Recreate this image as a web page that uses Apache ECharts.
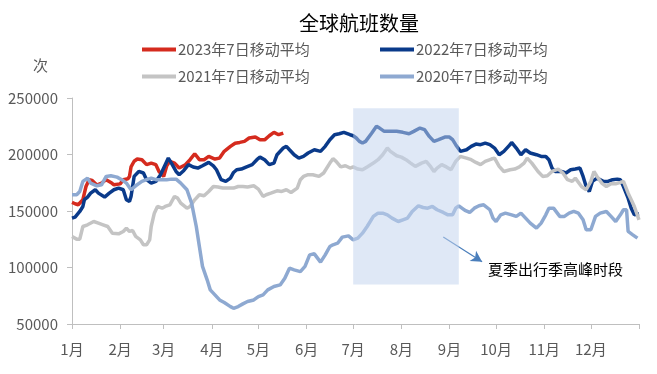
<!DOCTYPE html>
<html>
<head>
<meta charset="utf-8">
<script src="https://cdn.jsdelivr.net/npm/echarts@6/dist/echarts.min.js"></script>
<style>
html,body{margin:0;padding:0;background:#fff;}
#chart{width:657px;height:374px;}
</style>
</head>
<body>
<div id="chart"></div>
<script>
// x = day of year (0 = 1月1日), y = flights (7-day moving average)
const monthStarts = [0, 31, 59, 90, 120, 151, 181, 212, 243, 273, 304, 334];
const monthLabels = ['1月','2月','3月','4月','5月','6月','7月','8月','9月','10月','11月','12月'];
const yearEnd = 365;
const seriesNames = ['2023年7日移动平均','2022年7日移动平均','2021年7日移动平均','2020年7日移动平均'];

const s2023 = [[0,157600],[2,156400],[4,155500],[7,160000],[9,171700],[11,177700],[13,177000],[16,173000],[19,174700],[22,177700],[25,175300],[27,173200],[31,174000],[33,177700],[36,178500],[37,180600],[38,189000],[40,194000],[42,196000],[45,195400],[48,191000],[51,192400],[54,191000],[56,185000],[59,180600],[61,190000],[63,194000],[66,192400],[69,188000],[73,191000],[76,195400],[79,200700],[82,195400],[85,195400],[88,198300],[92,196000],[95,196800],[98,202800],[102,207200],[105,210000],[108,210700],[111,211600],[114,214600],[118,215500],[121,213000],[124,213000],[127,216600],[130,219600],[133,217500],[136,219000]];

const s2022 = [[0,143700],[2,144600],[5,149600],[7,154000],[8,160000],[10,162300],[12,165800],[15,168800],[17,165800],[21,162300],[24,165800],[27,168800],[30,170300],[33,168800],[35,160000],[37,158500],[38,162900],[40,180600],[43,185000],[46,183600],[48,177700],[51,174700],[54,176200],[57,182100],[60,191000],[62,196800],[64,192400],[67,185000],[69,182100],[72,185900],[75,191000],[78,188900],[81,188000],[84,190000],[88,193000],[91,190000],[93,186500],[96,177700],[99,176200],[102,179100],[104,184100],[106,186500],[109,187100],[112,188900],[116,191000],[119,195400],[121,197700],[124,195400],[127,191000],[130,192400],[132,199800],[136,205700],[138,207200],[140,204200],[143,199800],[146,196800],[149,198300],[152,201300],[156,204200],[160,202800],[163,207200],[166,213100],[169,217500],[172,218400],[175,219600],[179,217500],[181,216600],[183,214600],[185,211600],[187,210100],[189,211600],[193,219000],[196,224900],[198,223400],[201,220500],[204,220500],[209,220500],[213,219600],[217,218400],[220,220500],[224,223400],[227,222000],[230,216000],[233,211600],[236,213100],[240,215400],[243,215400],[245,213100],[247,208700],[250,202800],[254,204200],[257,207200],[260,209200],[263,208700],[266,210100],[269,208700],[272,205700],[275,199800],[278,202800],[282,208700],[283,210700],[286,205700],[289,199800],[292,204200],[295,201300],[299,199800],[302,198300],[305,198300],[307,195400],[309,188000],[311,185000],[315,185000],[318,183600],[321,186500],[324,187100],[327,188000],[329,180600],[331,171700],[333,167300],[335,176200],[338,179100],[342,176200],[345,176200],[348,177700],[351,178200],[353,177700],[355,171700],[358,161400],[360,152500],[362,146600],[365,147500]];

const s2021 = [[0,127500],[3,125100],[5,125100],[7,136300],[10,137800],[14,140700],[17,139300],[20,137800],[23,136300],[26,130400],[30,129800],[33,131900],[35,134800],[37,131900],[39,132800],[41,127500],[44,124500],[46,120100],[48,120100],[50,124500],[51,136300],[53,148100],[55,154000],[58,152500],[60,154000],[63,155500],[66,162900],[68,161400],[70,157000],[74,152500],[76,154000],[79,159900],[82,164400],[85,163500],[88,167300],[91,171700],[94,171200],[97,170300],[101,170300],[104,170300],[107,171700],[110,171700],[113,171200],[117,172300],[120,169400],[123,162900],[125,164400],[128,165800],[132,167900],[135,167300],[138,168800],[141,166400],[145,170300],[147,177700],[149,180600],[152,182100],[155,182100],[159,180600],[162,183600],[166,192400],[168,196300],[170,193900],[173,189000],[176,190100],[179,188000],[181,189000],[184,187100],[187,186500],[190,189000],[194,192400],[197,195400],[200,199800],[203,205700],[205,202800],[209,198900],[212,197700],[215,195400],[218,192400],[221,189500],[225,192400],[228,193900],[231,189000],[233,185000],[235,188000],[238,191000],[241,189000],[244,186500],[247,193900],[250,198300],[254,196800],[257,195400],[260,193000],[263,191000],[266,193900],[270,196000],[272,196800],[275,189500],[278,185000],[282,186500],[285,187100],[288,189000],[291,192400],[293,196800],[296,192400],[300,185000],[303,180600],[306,181200],[309,185000],[313,187100],[316,183600],[319,177700],[322,176200],[324,179100],[328,171700],[331,168800],[334,176200],[336,185000],[338,180600],[341,174700],[344,171700],[347,174100],[350,174100],[353,175300],[355,176200],[358,165800],[360,159900],[362,154000],[365,142200]];

const s2020 = [[0,164400],[3,164400],[5,167300],[7,176200],[10,179100],[12,174700],[16,172300],[19,173200],[22,180600],[25,181200],[29,180000],[32,177700],[35,174700],[38,168800],[41,172300],[45,176200],[48,177700],[51,179100],[54,177700],[58,177700],[61,177700],[64,178200],[67,178200],[70,174700],[74,168800],[77,157000],[80,136300],[82,118600],[84,101000],[87,89100],[89,80200],[92,75800],[95,71300],[98,69000],[102,65400],[104,63900],[107,65400],[110,67800],[113,69900],[117,71300],[120,74300],[123,75800],[126,80200],[130,83200],[134,84600],[137,90500],[140,99400],[143,97900],[147,96400],[150,101000],[153,111200],[156,112100],[160,104800],[163,111200],[166,118600],[168,120100],[171,121500],[174,126900],[178,128000],[181,124500],[184,126000],[187,130400],[190,136300],[194,145200],[197,148100],[200,148100],[203,146600],[206,143700],[210,140700],[213,142200],[216,143700],[219,149600],[223,154600],[226,153100],[229,152500],[232,154000],[235,151100],[239,148700],[242,146600],[245,146600],[247,152500],[249,154600],[253,150500],[256,148700],[259,152500],[262,154600],[265,155500],[269,151100],[271,143700],[273,140700],[276,146600],[279,148100],[283,146600],[286,145200],[289,148100],[292,143700],[295,139300],[299,134800],[302,139300],[305,146600],[307,152500],[310,152500],[314,145200],[317,145200],[320,148100],[323,149600],[326,148100],[329,142200],[331,133400],[334,133400],[337,145200],[340,148100],[344,149600],[347,145200],[350,140700],[353,146600],[355,151100],[357,151100],[358,131900],[361,128900],[364,126000]];

// summer peak period box and arrow (data coordinates)
const peakBox = [[181, 241000, 249, 85000]];
const arrowLine = [[239, 127000], [264, 105000]];
const peakText = '夏季出行季高峰时段';

const colors = ['#d52b1e', '#0a3a8a', '#c4c4c4', '#8ea9d1'];
const font = '"Noto Sans CJK SC", "Microsoft YaHei", sans-serif';
const chart = echarts.init(document.getElementById('chart'), null, {renderer: 'canvas'});

function legendAt(name, left, top) {
  return {
    data: [name], left: left, top: top, icon: 'rect', itemWidth: 34, itemHeight: 4,
    itemGap: 0, padding: 0,
    textStyle: {fontFamily: font, fontSize: 15, color: '#595959', padding: [0, 0, 0, -3]},
    selectedMode: false
  };
}

const allSeries = [s2023, s2022, s2021, s2020].map((d, i) => ({
  name: seriesNames[i], type: 'line', data: d, showSymbol: false, symbol: 'none',
  lineStyle: {width: 3.5, color: colors[i]}, itemStyle: {color: colors[i]},
  z: 2, animation: false
}));

// translucent shaded box drawn above the lines
allSeries.push({
  type: 'custom', z: 10, silent: true, animation: false,
  data: peakBox,
  encode: {x: [0, 2], y: [1, 3]},
  renderItem: function (params, api) {
    const p1 = api.coord([api.value(0), api.value(1)]);
    const p2 = api.coord([api.value(2), api.value(3)]);
    return {
      type: 'rect',
      shape: {x: p1[0], y: p1[1], width: p2[0] - p1[0], height: p2[1] - p1[1]},
      style: {fill: 'rgba(194,211,237,0.52)'}
    };
  }
});

allSeries.push({
  type: 'line', data: [], z: 11, animation: false,
  markLine: {
    silent: true, animation: false, symbol: ['none', 'arrow'], symbolSize: [9, 11],
    label: {show: false},
    lineStyle: {color: '#4a7ebb', width: 1.2, type: 'solid'},
    data: [[{coord: arrowLine[0]}, {coord: arrowLine[1]}]]
  }
});

chart.setOption({
  animation: false,
  title: {
    text: '全球航班数量', left: 294, top: 8,
    textStyle: {fontFamily: font, fontSize: 20, fontWeight: 'normal', color: '#000'}
  },
  legend: [
    legendAt(seriesNames[0], 142, 42),
    legendAt(seriesNames[1], 380, 42),
    legendAt(seriesNames[2], 142, 69),
    legendAt(seriesNames[3], 380, 69)
  ],
  graphic: [
    {type: 'text', left: 33, top: 58, style: {text: '次', fontFamily: font, fontSize: 15, fill: '#595959'}},
    {type: 'text', left: 488, top: 262, style: {text: peakText, fontFamily: font, fontSize: 15, fill: '#000'}}
  ],
  grid: {left: 72, right: 18, top: 98, bottom: 50},
  xAxis: {
    type: 'value', min: 0, max: yearEnd,
    axisLine: {show: true, lineStyle: {color: '#bfbfbf', width: 1}},
    axisTick: {show: true, customValues: monthStarts.concat([yearEnd]), length: 5, lineStyle: {color: '#bfbfbf'}},
    axisLabel: {
      customValues: monthStarts, margin: 18,
      fontFamily: font, fontSize: 15, color: '#595959',
      formatter: v => monthLabels[monthStarts.indexOf(v)] || ''
    },
    splitLine: {show: false}
  },
  yAxis: {
    type: 'value', min: 50000, max: 250000, interval: 50000,
    axisLine: {show: true, lineStyle: {color: '#bfbfbf', width: 1}},
    axisTick: {show: true, length: 5, lineStyle: {color: '#bfbfbf'}},
    axisLabel: {margin: 14, fontFamily: font, fontSize: 15, color: '#595959', formatter: v => String(v)},
    splitLine: {show: false}
  },
  series: allSeries
});
</script>
</body>
</html>
